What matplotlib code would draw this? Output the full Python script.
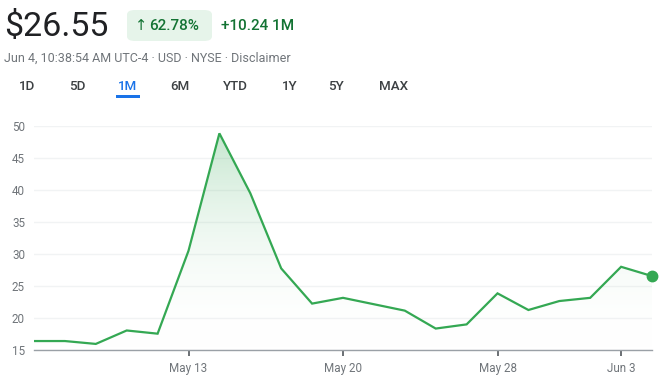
import numpy as np
import matplotlib
matplotlib.use("Agg")
import matplotlib.pyplot as plt
from matplotlib.patches import FancyBboxPatch, Rectangle

plt.rcParams['font.family'] = ['Roboto', 'DejaVu Sans']

# -- data (trading days, May 6 .. Jun 4) --
dates = ["May 6", "May 7", "May 8", "May 9", "May 10",
         "May 13", "May 14", "May 15", "May 16", "May 17",
         "May 20", "May 21", "May 22", "May 23", "May 24",
         "May 28", "May 29", "May 30", "May 31", "Jun 3", "Jun 4"]
prices = [16.4, 16.4, 15.95, 18.05, 17.55,
          30.5, 48.85, 39.5, 27.75, 22.25,
          23.15, 22.15, 21.15, 18.35, 19.0,
          23.85, 21.25, 22.65, 23.15, 28.0, 26.55]
tick_labels = ["May 13", "May 20", "May 28", "Jun 3"]
y_ticks = [15, 20, 25, 30, 35, 40, 45, 50]
ranges = ["1D", "5D", "1M", "6M", "YTD", "1Y", "5Y", "MAX"]
active_range = "1M"

price_text = "$26.55"
pct_text = "62.78%"
change_text = "+10.24 1M"
sub_text = "Jun 4, 10:38:54 AM UTC-4 \u00b7 USD \u00b7 NYSE \u00b7 Disclaimer"

GREEN = "#34a853"
DARK_GREEN = "#137333"
GREY = "#70757a"

W, H = 670, 386
fig = plt.figure(figsize=(W / 100, H / 100), dpi=100)


def fx(px):
    return px / W


def fy(py):
    return 1 - py / H


# -- header --
fig.text(fx(4), fy(27), price_text, fontsize=24.5, color="#202124", va="center", ha="left")
badge = FancyBboxPatch((fx(127), fy(41)), fx(212) - fx(127), fy(10) - fy(41),
                       boxstyle="round,pad=0,rounding_size=0.012",
                       transform=fig.transFigure, facecolor="#e6f4ea", edgecolor="none")
fig.patches.append(badge)
# arrow drawn on its own so it stays thin
fig.text(fx(141.5), fy(26), "\u2191", fontsize=10.5, color=DARK_GREEN, family="DejaVu Sans",
         va="center", ha="center")
fig.text(fx(149), fy(26), pct_text, fontsize=11, color=DARK_GREEN, weight="medium",
         va="center", ha="left")
fig.text(fx(221), fy(26), change_text, fontsize=11, color=DARK_GREEN, weight="medium",
         va="center", ha="left")
fig.text(fx(4), fy(58), sub_text, fontsize=9.0, color=GREY, va="center", ha="left")

# -- range buttons --
range_x = [27.5, 77, 128, 180, 235.5, 290, 336, 394]
for label, x in zip(ranges, range_x):
    col = "#1a73e8" if label == active_range else "#3c4043"
    fig.text(fx(x), fy(86), label, fontsize=9.6, color=col, weight="medium",
             va="center", ha="center")
    if label == active_range:
        fig.patches.append(Rectangle((fx(116), fy(97.5)), fx(24), fy(95) - fy(97.5),
                                     transform=fig.transFigure, facecolor="#1a73e8",
                                     edgecolor="none"))

# -- chart --
ax = fig.add_axes([fx(34), fy(350), fx(652) - fx(34), fy(126) - fy(350)])
x = np.arange(len(prices))
ax.set_xlim(0, len(prices) - 1)
ax.set_ylim(15, 50)

# gradient fill under the line
top = max(prices)
grad = np.linspace(0, 1, 256).reshape(-1, 1)
cmap = matplotlib.colors.LinearSegmentedColormap.from_list(
    "g", [(1, 1, 1, 0), (0.20, 0.66, 0.33, 0.28)])
img = ax.imshow(grad, extent=[0, len(prices) - 1, 15, top], origin="lower",
                aspect="auto", cmap=cmap, zorder=1)
poly = ax.fill_between(x, prices, 15, facecolor="none", edgecolor="none")
img.set_clip_path(poly.get_paths()[0], transform=ax.transData)

ax.plot(x, prices, color=GREEN, linewidth=1.6, zorder=3, solid_joinstyle="miter")
ax.plot(x[-1], prices[-1], "o", color=GREEN, markersize=7.5, zorder=4, clip_on=False)

ax.set_yticks(y_ticks)
ax.grid(axis="y", color="#f1f3f4", linewidth=1)
ax.set_axisbelow(True)
ax.set_xticks([dates.index(t) for t in tick_labels])
ax.set_xticklabels(tick_labels)
ax.tick_params(axis="y", length=0, pad=6.5, labelsize=8.4, labelcolor=GREY)
ax.tick_params(axis="x", length=4, width=1.3, color="#5f6368", pad=4.5,
               labelsize=8.4, labelcolor=GREY)
for side in ["top", "right", "left"]:
    ax.spines[side].set_visible(False)
ax.spines["bottom"].set_color("#9aa0a6")
ax.spines["bottom"].set_linewidth(1)

fig.savefig("out.png", dpi=100)
